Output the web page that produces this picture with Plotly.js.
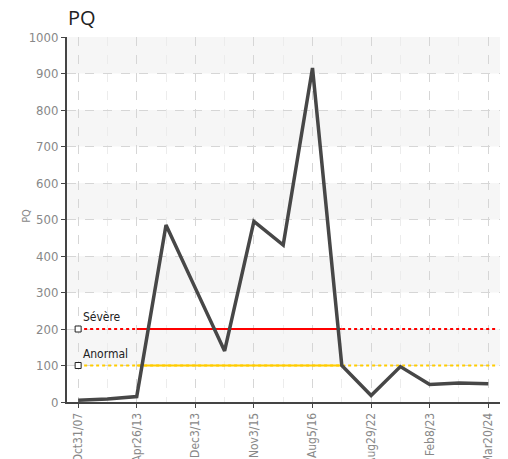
<!DOCTYPE html>
<html><head><meta charset="utf-8">
<script src="https://cdn.plot.ly/plotly-3.0.1.min.js"></script>
<style>html,body{margin:0;padding:0;background:#fff;}#chart{width:508px;height:459px;}
.xtick text,.ytick text,.annotation-text,.textpoint text{font-stretch:condensed !important;}
</style>
</head><body><div id="chart"></div>
<script>
const idx = [0,1,2,3,4,5,6,7,8,9,10,11,12,13,14];
const pq = [5,8,15,485,312,140,495,430,915,100,18,97,48,52,50];
const tickIdx = [0,2,4,6,8,10,12,14];
const tickLabels = ['Oct31/07','Apr26/13','Dec3/13','Nov3/15','Aug5/16','Aug29/22','Feb8/23','Mar20/24'];
const severeVal = 200, normalVal = 100;
const thrX = [0,14.25];
const solidX = [2,9];
const bandLows = [100,300,500,700,900];

const condensed = '"DejaVu Sans Condensed","DejaVu Sans",sans-serif';

const shapes = bandLows.map(b => ({type:'rect', xref:'paper', yref:'y', x0:0, x1:1, y0:b, y1:b+100, fillcolor:'#f6f6f6', line:{width:0}, layer:'below'}));

const traces = [
  {x:thrX, y:[severeVal,severeVal], mode:'lines', line:{color:'#ff0000', width:2, dash:'dot'}, hoverinfo:'skip'},
  {x:solidX, y:[severeVal,severeVal], mode:'lines', line:{color:'#ff0000', width:2}, hoverinfo:'skip'},
  {x:thrX, y:[normalVal,normalVal], mode:'lines', line:{color:'#ffcc00', width:2, dash:'dot'}, hoverinfo:'skip'},
  {x:solidX, y:[normalVal,normalVal], mode:'lines', line:{color:'#ffcc00', width:2}, hoverinfo:'skip'},
  {x:idx, y:pq, mode:'lines', line:{color:'#474747', width:3.5}, hoverinfo:'skip'},
  {x:[0,0], y:[severeVal,normalVal], mode:'markers+text', text:['Sévère','Anormal'], textposition:'top right',
   textfont:{family:condensed, size:12, color:'#222'},
   marker:{symbol:'square', size:6, color:'#fff', line:{color:'#222', width:1}}, hoverinfo:'skip', cliponaxis:false}
];

const layout = {
  width:508, height:459,
  margin:{l:67, r:8, t:37, b:57},
  paper_bgcolor:'#fff', plot_bgcolor:'#fff',
  showlegend:false,
  title:{text:'PQ', x:68/508, xanchor:'left', y:1-18/459, yanchor:'middle', font:{family:'"Open Sans","Noto Sans",sans-serif', size:20, color:'#222'}},
  shapes: shapes,
  annotations:[{text:'PQ', xref:'paper', yref:'paper', x:-40/433, y:0.51, textangle:-90, showarrow:false,
    xanchor:'center', yanchor:'middle', font:{family:condensed, size:11, color:'#888'}}],
  xaxis:{
    range:[-0.38,14.4], tickmode:'array', tickvals:tickIdx, ticktext:tickLabels,
    tickangle:-90, tickfont:{family:condensed, size:12, color:'#888'},
    showline:true, linecolor:'#444', linewidth:2, ticks:'outside', ticklen:4, tickcolor:'#444',
    showgrid:true, gridcolor:'#d6d6d6', griddash:'dash', gridwidth:1,
    minor:{tickmode:'array', tickvals:[1,3,5,7,9,11,13], showgrid:true, gridcolor:'#ececec', griddash:'dash', ticks:''},
    zeroline:false, fixedrange:true
  },
  yaxis:{
    range:[0,1000], dtick:100, tick0:0,
    tickfont:{family:condensed, size:13, color:'#888'},
    showline:true, linecolor:'#444', linewidth:2, ticks:'outside', ticklen:4, tickcolor:'#444',
    showgrid:true, gridcolor:'#d6d6d6', griddash:'dash', gridwidth:1,
    zeroline:false, fixedrange:true
  }
};
Plotly.newPlot('chart', traces, layout, {displayModeBar:false, staticPlot:true});
</script></body></html>
